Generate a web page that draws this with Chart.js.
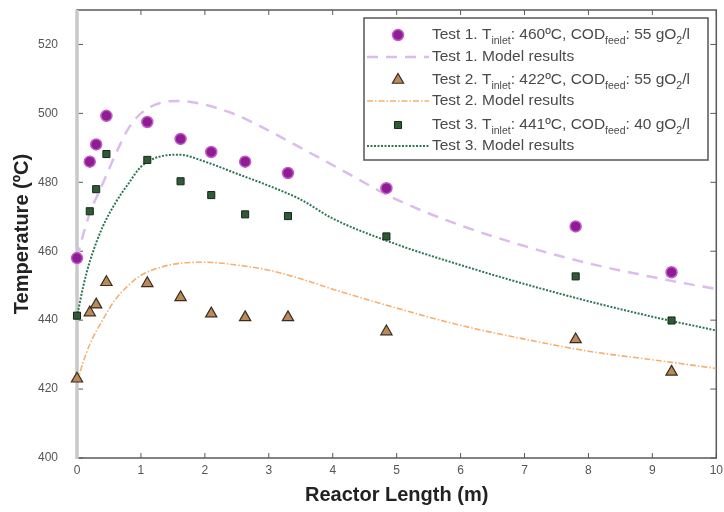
<!DOCTYPE html>
<html>
<head>
<meta charset="utf-8">
<script src="https://cdn.jsdelivr.net/npm/chart.js@4.4.1/dist/chart.umd.min.js"></script>
<style>
    html, body { margin: 0; padding: 0; background: #fff; }
    #wrap { width: 724px; height: 512px; }
</style>
</head>
<body>
<div id="wrap"><canvas id="chart" width="724" height="512"></canvas></div>
<script>
// Measured points (same reactor positions for the three tests)
const sampleX = [0, 0.2, 0.3, 0.46, 1.1, 1.62, 2.1, 2.63, 3.3, 4.84, 7.8, 9.3];
const test1 = [458, 486, 491, 499.3, 497.5, 492.6, 488.8, 486, 482.7, 478.3, 467.2, 453.9];
const test2 = [423, 442.2, 444.5, 451, 450.7, 446.6, 441.9, 440.8, 440.8, 436.7, 434.4, 425];
const test3 = [441.3, 471.6, 478, 488.2, 486.5, 480.3, 476.3, 470.7, 470.2, 464.3, 452.7, 439.9];

// Model curves
const modelX = [0, 0.1, 0.2, 0.4, 0.6, 0.8, 1.0, 1.3, 1.6, 2.0, 2.5, 3.0, 3.5, 4.0, 5.0, 6.0, 7.0, 8.0, 9.0, 10];
const model1 = [458, 465, 471, 479.5, 488, 495.5, 500, 503, 503.6, 502.5, 499.5, 495, 490, 485, 475, 467.5, 461.5, 456.5, 452.5, 449];
const model2 = [422, 428, 433, 440, 446, 450, 453, 455.3, 456.5, 456.8, 456, 454.5, 452, 449, 443.5, 438.5, 434.5, 431, 428.5, 426];
const model3 = [441, 450, 457, 467, 474, 479.5, 484.5, 487.5, 488, 486, 482.5, 479, 475, 469.5, 462, 456, 450.5, 445.5, 441, 437];

// Axis ticks
const xTicks = [0, 1, 2, 3, 4, 5, 6, 7, 8, 9, 10];
const yTicks = [400, 420, 440, 460, 480, 500, 520];

// Legend texts, [text, isSubscript]
const legendRows = [
    [["Test 1. T", 0], ["inlet", 1], [": 460ºC, COD", 0], ["feed", 1], [": 55 gO", 0], ["2", 1], ["/l", 0]],
    [["Test 1. Model results", 0]],
    [["Test 2. T", 0], ["inlet", 1], [": 422ºC, COD", 0], ["feed", 1], [": 55 gO", 0], ["2", 1], ["/l", 0]],
    [["Test 2. Model results", 0]],
    [["Test 3. T", 0], ["inlet", 1], [": 441ºC, COD", 0], ["feed", 1], [": 40 gO", 0], ["2", 1], ["/l", 0]],
    [["Test 3. Model results", 0]],
];

const FONT = "'Liberation Sans', Arial, sans-serif";

function pairs(xs, ys) {
    return xs.map((x, i) => ({ x: x, y: ys[i] }));
}

const datasets = [
    {
        label: "Test 1",
        data: pairs(sampleX, test1),
        showLine: false,
        clip: false,
        pointStyle: "circle",
        pointRadius: 5.5,
        backgroundColor: "#8e1c93",
        borderColor: "#c45ccb",
        borderWidth: 1.5,
        order: 1,
    },
    {
        label: "Test 1. Model results",
        data: pairs(modelX, model1),
        borderColor: "#dcbcec",
        borderWidth: 2.5,
        borderDash: [11, 8],
        pointRadius: 0,
        cubicInterpolationMode: "monotone",
        order: 2,
    },
    {
        label: "Test 2",
        data: pairs(sampleX, test2),
        showLine: false,
        clip: false,
        pointStyle: "triangle",
        pointRadius: 6.5,
        backgroundColor: "#b98a5c",
        borderColor: "#3b2c1c",
        borderWidth: 1.2,
        order: 1,
    },
    {
        label: "Test 2. Model results",
        data: pairs(modelX, model2),
        borderColor: "#f2b170",
        borderWidth: 1.6,
        borderDash: [6, 2, 1.5, 2],
        pointRadius: 0,
        cubicInterpolationMode: "monotone",
        order: 2,
    },
    {
        label: "Test 3",
        data: pairs(sampleX, test3),
        showLine: false,
        clip: false,
        pointStyle: "rect",
        pointRadius: 5,
        backgroundColor: "#2e5b34",
        borderColor: "#18261a",
        borderWidth: 1,
        order: 1,
    },
    {
        label: "Test 3. Model results",
        data: pairs(modelX, model3),
        borderColor: "#2f7552",
        borderWidth: 2,
        borderDash: [2, 1.5],
        pointRadius: 0,
        cubicInterpolationMode: "monotone",
        order: 2,
    },
];

// Frame with inward tick marks (drawn under the points)
const framePlugin = {
    id: "frame",
    beforeDatasetsDraw(chart) {
        const { ctx, chartArea: a, scales } = chart;
        ctx.save();
        ctx.strokeStyle = "#5a5a5a";
        ctx.lineWidth = 1.5;
        ctx.strokeRect(a.left, a.top, a.right - a.left, a.bottom - a.top);
        ctx.lineWidth = 1;
        ctx.beginPath();
        xTicks.forEach((v) => {
            const px = scales.x.getPixelForValue(v);
            ctx.moveTo(px, a.bottom);
            ctx.lineTo(px, a.bottom - 5);
            ctx.moveTo(px, a.top);
            ctx.lineTo(px, a.top + 5);
        });
        yTicks.forEach((v) => {
            const py = scales.y.getPixelForValue(v);
            ctx.moveTo(a.left, py);
            ctx.lineTo(a.left + 6, py);
            ctx.moveTo(a.right, py);
            ctx.lineTo(a.right - 6, py);
        });
        ctx.stroke();
        // light grey left axis
        ctx.strokeStyle = "#c9c9c9";
        ctx.lineWidth = 3.5;
        ctx.beginPath();
        ctx.moveTo(a.left, a.top);
        ctx.lineTo(a.left, a.bottom + 1);
        ctx.stroke();
        ctx.restore();
    },
};

// Legend box with subscripts
const legendPlugin = {
    id: "subLegend",
    afterDraw(chart) {
        const { ctx } = chart;
        const box = { left: 364, top: 18, right: 708, bottom: 160 };
        const rowY = [35, 57, 80, 101, 125, 146];
        ctx.save();
        ctx.fillStyle = "#fff";
        ctx.fillRect(box.left, box.top, box.right - box.left, box.bottom - box.top);
        ctx.strokeStyle = "#555";
        ctx.lineWidth = 1.5;
        ctx.strokeRect(box.left, box.top, box.right - box.left, box.bottom - box.top);

        chart.data.datasets.forEach((ds, i) => {
            const y = rowY[i];
            if (ds.showLine === false) {
                ctx.fillStyle = ds.backgroundColor;
                ctx.strokeStyle = ds.borderColor;
                ctx.lineWidth = ds.borderWidth;
                ctx.setLineDash([]);
                Chart.helpers.drawPoint(ctx, {
                    pointStyle: ds.pointStyle,
                    radius: ds.pointRadius,
                    borderWidth: ds.borderWidth,
                    rotation: 0,
                }, 398, y);
            } else {
                ctx.strokeStyle = ds.borderColor;
                ctx.lineWidth = ds.borderWidth;
                ctx.setLineDash(ds.borderDash);
                ctx.beginPath();
                ctx.moveTo(367, y);
                ctx.lineTo(429, y);
                ctx.stroke();
            }
            ctx.setLineDash([]);
            let x = 432;
            ctx.fillStyle = "#4a4a4a";
            ctx.textBaseline = "middle";
            legendRows[i].forEach(([text, sub]) => {
                ctx.font = sub ? "10.5px " + FONT : "15.5px " + FONT;
                ctx.fillText(text, x, sub ? y + 6 : y);
                x += ctx.measureText(text).width;
            });
        });
        ctx.restore();
    },
};

new Chart(document.getElementById("chart"), {
    type: "line",
    data: { datasets: datasets },
    options: {
        responsive: false,
        animation: false,
        layout: { padding: { left: 0, right: 7, top: 10, bottom: 0 } },
        plugins: {
            legend: { display: false },
            tooltip: { enabled: false },
        },
        scales: {
            x: {
                type: "linear",
                min: 0,
                max: 10,
                afterFit: (s) => {
                    s.height = 54;
                    s.paddingLeft = 0;
                    s.paddingRight = 0;
                },
                afterBuildTicks: (s) => { s.ticks = xTicks.map((v) => ({ value: v })); },
                grid: { display: false, drawTicks: false },
                border: { display: false },
                ticks: {
                    padding: 5,
                    color: "#555",
                    font: { family: FONT, size: 12 },
                },
                title: {
                    display: true,
                    text: "Reactor Length (m)",
                    color: "#222",
                    padding: { top: 0, bottom: 5 },
                    font: { family: FONT, size: 20, weight: "bold" },
                },
            },
            y: {
                type: "linear",
                min: 400,
                max: 530,
                afterFit: (s) => {
                    s.width = 77;
                    s.paddingTop = 0;
                    s.paddingBottom = 0;
                },
                afterBuildTicks: (s) => { s.ticks = yTicks.map((v) => ({ value: v })); },
                grid: { display: false, drawTicks: false },
                border: { display: false },
                ticks: {
                    padding: 19,
                    color: "#555",
                    font: { family: FONT, size: 12 },
                },
                title: {
                    display: true,
                    text: "Temperature (ºC)",
                    color: "#222",
                    padding: { top: 10, bottom: 0 },
                    font: { family: FONT, size: 20, weight: "bold" },
                },
            },
        },
    },
    plugins: [framePlugin, legendPlugin],
});
</script>
</body>
</html>
